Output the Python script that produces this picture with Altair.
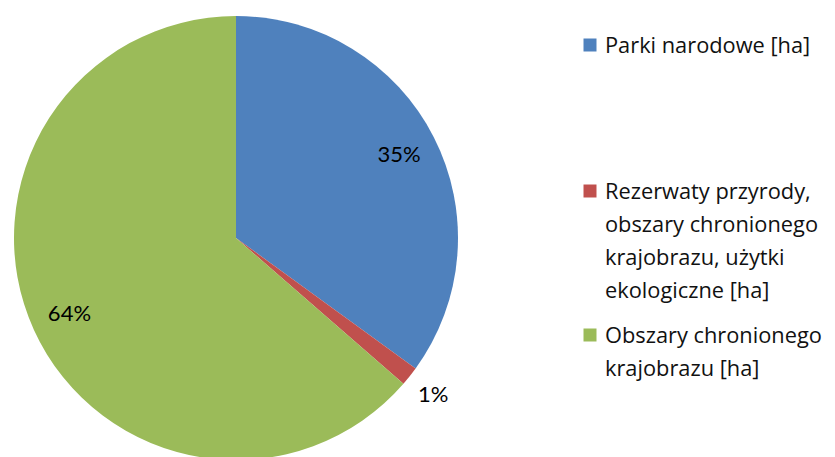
import altair as alt
import pandas as pd

categories = [
    "Parki narodowe [ha]",
    "Rezerwaty przyrody, obszary chronionego krajobrazu, użytki ekologiczne [ha]",
    "Obszary chronionego krajobrazu [ha]",
]
shares = [35.0, 1.4, 63.6]
colors = ["#4F81BD", "#C0504D", "#9BBB59"]
legend_lines = [
    ["Parki narodowe [ha]"],
    ["Rezerwaty przyrody,", "obszary chronionego", "krajobrazu, użytki", "ekologiczne [ha]"],
    ["Obszary chronionego", "krajobrazu [ha]"],
]

FONT = "Lato"
LEG_FONT = "Open Sans"
CX, CY, R = 228, 230, 222

df = pd.DataFrame({"cat": categories, "share": shares, "ord": list(range(len(categories)))})

base = alt.Chart(df).transform_joinaggregate(
    total="sum(share)"
).transform_calculate(
    label="format(datum.share / datum.total, '.0%')"
)

theta = alt.Theta("share:Q", stack=True)
order = alt.Order("ord:Q")
color = alt.Color("cat:N", scale=alt.Scale(domain=categories, range=colors), legend=None)

pie = base.mark_arc(radius=R).encode(
    theta=theta, order=order, color=color,
    x=alt.value(CX), y=alt.value(CY),
)

inner = base.mark_text(radius=183, fontSize=22, font=FONT, color="#000000",
                       baseline="middle", align="center").encode(
    theta=theta, order=order,
    x=alt.value(CX), y=alt.value(CY),
    text=alt.condition("datum.share >= 5", "label:N", alt.value("")),
)
outer = base.mark_text(radius=252, fontSize=22, font=FONT, color="#000000",
                       baseline="middle", align="center").encode(
    theta=theta, order=order,
    x=alt.value(CX), y=alt.value(CY),
    text=alt.condition("datum.share < 5", "label:N", alt.value("")),
)

layers = [pie, inner, outer]
sq_y = [37, 183, 327]
for i, cat in enumerate(categories):
    sub = alt.Chart(df).transform_filter(alt.datum.cat == cat)
    layers.append(sub.mark_square(size=169, color=colors[i], opacity=1).encode(
        x=alt.value(582), y=alt.value(sq_y[i])))
    layers.append(sub.mark_text(align="left", baseline="alphabetic", fontSize=21.8,
                                font=LEG_FONT, color="#111111", lineHeight=33).encode(
        x=alt.value(597), y=alt.value(sq_y[i] + 8), text=alt.value(legend_lines[i])))

chart = alt.layer(*layers).properties(
    width=819, height=449, autosize=alt.AutoSizeParams(type="none"), padding=0
).configure_view(stroke=None)

chart.save("out.html", embed_options={"renderer": "svg", "actions": False})
